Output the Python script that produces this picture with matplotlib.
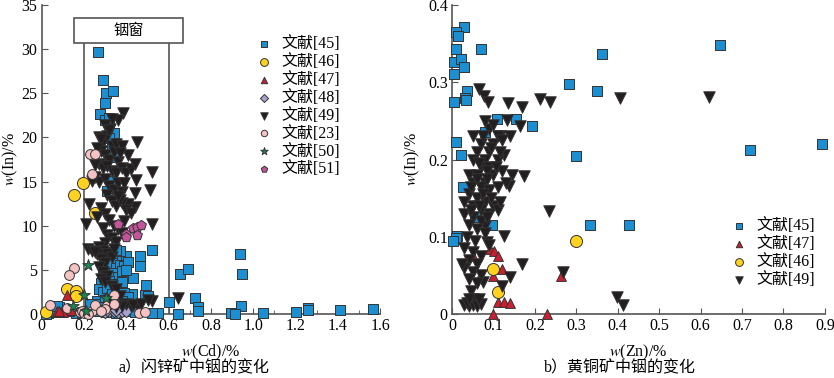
import matplotlib
matplotlib.use('Agg')
import matplotlib.pyplot as plt
from matplotlib.patches import Rectangle

plt.rcParams['font.family'] = ['Liberation Serif', 'Noto Sans CJK SC']
plt.rcParams['font.size'] = 11
plt.rcParams['mathtext.fontset'] = 'stix'

# ---- a) sphalerite: w(Cd) vs w(In) ----
a45 = [(0.268, 29.7), (0.29, 26.5), (0.305, 25.0), (0.335, 25.3), (0.30, 23.9), (0.275, 22.6),
       (0.30, 22.0), (0.32, 22.2), (0.34, 20.5), (0.32, 19.9), (0.33, 19.0), (0.345, 17.8),
       (0.33, 15.1), (0.31, 13.9), (0.52, 7.3), (0.465, 6.6), (0.465, 5.4), (0.43, 4.1),
       (0.495, 3.3), (0.49, 2.2), (0.50, 2.0), (0.425, 2.3), (0.60, 1.4), (0.655, 4.5),
       (0.69, 5.1), (0.725, 1.8), (0.74, 0.75), (0.74, 0.3), (0.645, 0.0), (0.55, 0.1),
       (0.52, 0.15), (0.935, 6.8), (0.945, 4.5), (0.94, 0.9), (0.895, 0.15), (0.915, 0.0),
       (1.045, 0.1), (1.2, 0.2), (1.26, 0.65), (1.26, 0.45), (1.41, 0.45), (1.565, 0.55),
       (0.30, 7.0), (0.32, 6.5), (0.34, 6.2), (0.36, 6.5), (0.38, 6.3), (0.40, 6.6),
       (0.30, 5.5), (0.33, 5.8), (0.35, 5.2), (0.37, 5.6), (0.39, 5.4), (0.41, 5.9),
       (0.29, 4.8), (0.31, 4.5), (0.34, 4.7), (0.36, 4.2), (0.38, 4.9), (0.40, 5.0),
       (0.28, 3.5), (0.30, 3.2), (0.32, 3.8), (0.34, 3.4), (0.36, 3.1), (0.38, 3.6),
       (0.27, 2.8), (0.29, 2.5), (0.31, 2.9), (0.33, 2.3), (0.35, 2.6), (0.37, 2.2),
       (0.39, 2.4), (0.41, 1.9), (0.26, 1.5), (0.28, 1.2), (0.30, 1.6), (0.32, 1.0),
       (0.36, 1.3), (0.38, 1.5), (0.25, 0.6), (0.27, 0.3), (0.29, 0.8), (0.31, 0.2),
       (0.33, 0.5), (0.35, 0.1), (0.37, 0.7), (0.40, 0.3), (0.42, 0.8), (0.44, 0.2),
       (0.22, 0.3), (0.24, 0.9), (0.12, 0.4), (0.08, 0.8), (0.03, 0.1), (0.06, 0.2),
       (0.16, 0.1), (0.19, 0.2), (0.23, 1.2), (0.37, 7.1), (0.35, 7.3), (0.31, 6.9),
       (0.02, 0.0), (0.07, 0.9)]
a46 = [(0.151, 13.5), (0.193, 14.8), (0.254, 11.5), (0.12, 2.8), (0.16, 2.6), (0.164, 2.0),
       (0.022, 0.26)]
a47 = [(0.12, 2.2), (0.07, 0.3), (0.09, 0.25), (0.11, 0.3), (0.13, 0.35), (0.14, 0.5),
       (0.10, 0.2), (0.08, 0.35)]
a48 = [(0.28, 0.3), (0.30, 0.2), (0.32, 0.4), (0.34, 0.3), (0.36, 0.2), (0.38, 0.35),
       (0.40, 0.3), (0.31, 0.5), (0.35, 0.5)]
a49 = [(0.385, 22.8), (0.36, 22.0), (0.325, 21.0), (0.45, 19.5), (0.52, 16.1), (0.445, 15.2),
       (0.51, 14.1), (0.44, 13.7), (0.44, 12.1), (0.41, 12.5), (0.38, 12.6), (0.224, 12.5),
       (0.21, 10.2), (0.52, 10.2), (0.22, 7.4), (0.24, 7.2), (0.45, 1.0), (0.42, 0.9),
       (0.52, 1.5), (0.645, 1.8),
       (0.27, 20.0), (0.29, 19.5), (0.31, 20.2), (0.33, 19.0), (0.28, 18.5), (0.30, 18.0),
       (0.32, 17.5), (0.34, 18.3), (0.36, 17.2), (0.27, 17.0), (0.29, 16.5), (0.31, 16.8),
       (0.33, 16.2), (0.35, 16.0), (0.38, 16.5), (0.40, 16.0), (0.42, 16.4), (0.25, 15.5),
       (0.27, 14.9), (0.30, 15.3), (0.32, 14.5), (0.34, 14.0), (0.36, 14.8), (0.38, 13.8),
       (0.31, 13.5), (0.33, 12.8), (0.35, 12.2), (0.37, 12.9), (0.40, 11.8), (0.42, 11.5),
       (0.28, 12.0), (0.30, 11.3), (0.26, 11.0), (0.32, 10.6), (0.34, 10.0), (0.36, 9.6),
       (0.38, 9.2), (0.29, 9.8), (0.31, 9.0), (0.33, 8.6), (0.35, 8.2), (0.30, 8.0),
       (0.27, 7.6), (0.29, 7.2), (0.31, 6.8), (0.33, 6.5), (0.26, 6.8), (0.28, 6.2),
       (0.30, 5.8), (0.27, 5.3), (0.29, 4.8), (0.31, 4.3), (0.28, 4.0), (0.30, 3.6),
       (0.33, 3.2), (0.35, 2.8), (0.37, 2.0), (0.32, 1.6), (0.40, 1.2), (0.43, 1.0),
       (0.47, 1.1), (0.38, 0.9), (0.35, 0.8), (0.50, 1.6), (0.33, 22.1), (0.30, 21.4),
       (0.32, 20.8), (0.28, 19.8), (0.26, 18.8), (0.35, 19.2), (0.38, 19.0), (0.41, 18.0),
       (0.44, 17.0), (0.37, 18.2), (0.25, 16.9), (0.24, 15.1), (0.39, 14.8), (0.36, 13.4),
       (0.39, 10.5), (0.34, 7.4), (0.25, 7.0)]
a23 = [(0.227, 18.1), (0.25, 18.1), (0.238, 15.9), (0.151, 5.25), (0.13, 4.4), (0.04, 1.0),
       (0.12, 0.7), (0.18, 0.2), (0.19, 0.4), (0.20, 0.1), (0.24, 0.3), (0.25, 1.0),
       (0.34, 2.2), (0.31, 1.0), (0.34, 1.1), (0.30, 0.6), (0.46, 0.1), (0.49, 0.2),
       (0.28, 0.3), (0.22, 0.0)]
a50 = [(0.218, 5.55), (0.20, 2.15), (0.148, 0.9), (0.208, 0.38), (0.303, 1.85)]
a51 = [(0.361, 10.2), (0.40, 9.1), (0.40, 8.7), (0.432, 9.7), (0.448, 9.9), (0.47, 10.1),
       (0.45, 9.0)]

# ---- b) chalcopyrite: w(Zn) vs w(In) ----
b45 = [(0.028, 0.372), (0.0105, 0.365), (0.0145, 0.36), (0.0105, 0.343), (0.071, 0.343),
       (0.0056, 0.326), (0.022, 0.330), (0.03, 0.320), (0.004, 0.310), (0.282, 0.298),
       (0.35, 0.289), (0.361, 0.336), (0.648, 0.348), (0.036, 0.288), (0.032, 0.280),
       (0.034, 0.277), (0.004, 0.274), (0.109, 0.252), (0.155, 0.253), (0.192, 0.244),
       (0.079, 0.235), (0.009, 0.223), (0.0225, 0.206), (0.30, 0.205), (0.719, 0.212),
       (0.894, 0.220), (0.026, 0.165), (0.056, 0.126), (0.097, 0.115), (0.334, 0.115),
       (0.428, 0.115), (0.012, 0.101), (0.009, 0.099), (0.0016, 0.094)]
b47 = [(0.091, 0.084), (0.102, 0.082), (0.111, 0.075), (0.051, 0.075), (0.12, 0.059),
       (0.10, 0.049), (0.262, 0.049), (0.111, 0.016), (0.125, 0.016), (0.139, 0.015),
       (0.10, 0.0), (0.229, 0.0)]
b46 = [(0.30, 0.094), (0.099, 0.058), (0.11, 0.029)]
b49 = [(0.065, 0.291), (0.076, 0.282), (0.088, 0.275), (0.135, 0.273), (0.169, 0.268),
       (0.213, 0.278), (0.237, 0.275), (0.405, 0.279), (0.621, 0.281), (0.133, 0.251),
       (0.165, 0.243), (0.115, 0.230), (0.139, 0.231), (0.125, 0.206), (0.173, 0.179),
       (0.145, 0.180), (0.137, 0.166), (0.233, 0.134), (0.126, 0.101), (0.169, 0.065),
       (0.268, 0.055), (0.398, 0.0225), (0.412, 0.012), (0.139, 0.048), (0.12, 0.036),
       (0.075, 0.041), (0.085, 0.093), (0.079, 0.114),
       (0.05, 0.23), (0.07, 0.22), (0.09, 0.21), (0.06, 0.21), (0.08, 0.20), (0.10, 0.22),
       (0.11, 0.20), (0.05, 0.20), (0.07, 0.19), (0.09, 0.19), (0.04, 0.18), (0.06, 0.18),
       (0.08, 0.17), (0.10, 0.18), (0.12, 0.185), (0.05, 0.17), (0.07, 0.165), (0.09, 0.16),
       (0.11, 0.165), (0.13, 0.17), (0.04, 0.155), (0.06, 0.15), (0.08, 0.145), (0.10, 0.14),
       (0.03, 0.145), (0.05, 0.14), (0.07, 0.135), (0.09, 0.13), (0.11, 0.135), (0.03, 0.13),
       (0.05, 0.125), (0.07, 0.12), (0.04, 0.115), (0.06, 0.11), (0.08, 0.105), (0.035, 0.10),
       (0.055, 0.095), (0.03, 0.085), (0.05, 0.08), (0.07, 0.075), (0.04, 0.07), (0.06, 0.065),
       (0.03, 0.06), (0.05, 0.055), (0.07, 0.05), (0.04, 0.045), (0.06, 0.04), (0.045, 0.03),
       (0.05, 0.02), (0.03, 0.012), (0.04, 0.010), (0.05, 0.012), (0.06, 0.010), (0.07, 0.013),
       (0.035, 0.015), (0.065, 0.02), (0.09, 0.24), (0.08, 0.25), (0.10, 0.245), (0.11, 0.23),
       (0.12, 0.225), (0.075, 0.23), (0.095, 0.215), (0.115, 0.21), (0.065, 0.195),
       (0.085, 0.185), (0.105, 0.19), (0.06, 0.175), (0.085, 0.175), (0.075, 0.155),
       (0.095, 0.15), (0.115, 0.145), (0.085, 0.125), (0.065, 0.14), (0.045, 0.165),
       (0.045, 0.135), (0.09, 0.09), (0.025, 0.065), (0.04, 0.02)]

blue = '#1b8fd2'
yellow = '#ffd21f'
red = '#c8202f'
lav = '#a7a3cf'
black = '#231f20'
pink = '#f5c3c3'
green = '#138a4f'
mag = '#c4549a'
edge = '#333333'
spine_c = '#555555'


def scat(ax, pts, marker, color, label, s=50):
    xs = [p[0] for p in pts]
    ys = [p[1] for p in pts]
    ax.scatter(xs, ys, marker=marker, s=s, c=color, edgecolors=edge, linewidths=0.7,
               label=label, clip_on=False, zorder=3)


def style(ax):
    for sp in ['top', 'right']:
        ax.spines[sp].set_visible(False)
    for sp in ['left', 'bottom']:
        ax.spines[sp].set_color(spine_c)
        ax.spines[sp].set_linewidth(1.2)
    ax.tick_params(direction='in', length=4, color=spine_c, labelsize=11.5, pad=3)
    ax.tick_params(which='minor', direction='in', length=3, color=spine_c)


fig = plt.figure(figsize=(8.34, 3.78), dpi=100)

ax1 = fig.add_axes([0.050, 0.169, 0.406, 0.818])
ax1.set_xlim(0, 1.6)
ax1.set_ylim(0, 35)
style(ax1)
ax1.set_xticks([0, 0.2, 0.4, 0.6, 0.8, 1.0, 1.2, 1.4, 1.6])
ax1.set_xticklabels(['0', '0.2', '0.4', '0.6', '0.8', '1.0', '1.2', '1.4', '1.6'])
ax1.set_xticks([0.1, 0.3, 0.5, 0.7, 0.9, 1.1, 1.3, 1.5], minor=True)
ax1.set_yticks([0, 5, 10, 15, 20, 25, 30, 35])

# indium window
ax1.plot([0.2, 0.2], [0, 30.7], color=spine_c, lw=1.2, zorder=2)
ax1.plot([0.6, 0.6], [0, 30.7], color=spine_c, lw=1.2, zorder=2)
ax1.add_patch(Rectangle((0.151, 30.7), 0.516, 2.8, facecolor='white', edgecolor=spine_c,
                        lw=1.2, zorder=4))
ax1.text(0.409, 32.1, '铟窗', ha='center', va='center', fontsize=11, zorder=5)

scat(ax1, a45, 's', blue, '文献[45]')
scat(ax1, a46, 'o', yellow, '文献[46]', s=75)
scat(ax1, a47, '^', red, '文献[47]')
scat(ax1, a48, 'D', lav, '文献[48]', s=40)
scat(ax1, a49, 'v', black, '文献[49]', s=68)
scat(ax1, a23, 'o', pink, '文献[23]')
scat(ax1, a50, '*', green, '文献[50]', s=75)
scat(ax1, a51, 'p', mag, '文献[51]', s=55)

ax1.legend(loc='upper left', bbox_to_anchor=(0.59, 0.92), frameon=False, fontsize=11.5,
           handletextpad=0.1, labelspacing=0.12, markerscale=0.65, borderaxespad=0)
ax1.set_xlabel('$w$(Cd)/%', fontsize=11.5, labelpad=6)
ax1.set_ylabel('$w$(In)/%', fontsize=11.5, labelpad=1)

ax2 = fig.add_axes([0.542, 0.169, 0.447, 0.818])
ax2.set_xlim(0, 0.9)
ax2.set_ylim(0, 0.4)
style(ax2)
ax2.set_xticks([0, 0.1, 0.2, 0.3, 0.4, 0.5, 0.6, 0.7, 0.8, 0.9])
ax2.set_xticklabels(['0', '0.1', '0.2', '0.3', '0.4', '0.5', '0.6', '0.7', '0.8', '0.9'])
ax2.set_yticks([0, 0.1, 0.2, 0.3, 0.4])
ax2.set_yticklabels(['0', '0.1', '0.2', '0.3', '0.4'])

scat(ax2, b45, 's', blue, '文献[45]')
scat(ax2, b47, '^', red, '文献[47]')
scat(ax2, b46, 'o', yellow, '文献[46]', s=75)
scat(ax2, b49, 'v', black, '文献[49]', s=68)

ax2.legend(loc='upper left', bbox_to_anchor=(0.71, 0.33), frameon=False, fontsize=11.5,
           handletextpad=0.1, labelspacing=0.12, markerscale=0.65, borderaxespad=0)
ax2.set_xlabel('$w$(Zn)/%', fontsize=11.5, labelpad=6)
ax2.set_ylabel('$w$(In)/%', fontsize=11.5, labelpad=4)

fig.text(0.233, 0.015, 'a）闪锌矿中铟的变化', ha='center', fontsize=11.5)
fig.text(0.743, 0.015, 'b）黄铜矿中铟的变化', ha='center', fontsize=11.5)

fig.savefig('out.png', dpi=100)
